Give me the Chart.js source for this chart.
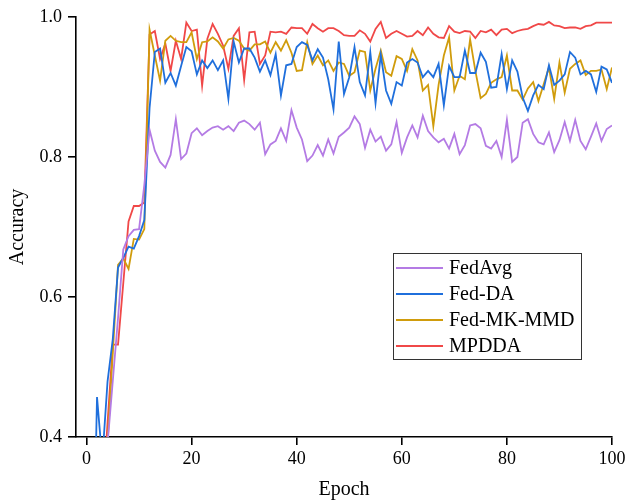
<!DOCTYPE html>
<html>
<head>
<meta charset="utf-8">
<script src="https://cdn.jsdelivr.net/npm/chart.js@4.4.1/dist/chart.umd.min.js"></script>
<style>
html,body{margin:0;padding:0;background:#fff;}
canvas{display:block;}
</style>
</head>
<body>
<canvas id="c" width="629" height="502"></canvas>
<script>
// epochs 1..100
const epochs = [1,2,3,4,5,6,7,8,9,10,11,12,13,14,15,16,17,18,19,20,
  21,22,23,24,25,26,27,28,29,30,31,32,33,34,35,36,37,38,39,40,
  41,42,43,44,45,46,47,48,49,50,51,52,53,54,55,56,57,58,59,60,
  61,62,63,64,65,66,67,68,69,70,71,72,73,74,75,76,77,78,79,80,
  81,82,83,84,85,86,87,88,89,90,91,92,93,94,95,96,97,98,99,100];

const fedAvg = [0.2,0.25,0.3,0.39,0.48,0.57,0.668,0.687,0.696,0.697,
  0.76,0.839,0.809,0.793,0.785,0.803,0.854,0.797,0.805,0.834,
  0.841,0.831,0.837,0.842,0.844,0.839,0.844,0.837,0.849,0.852,
  0.847,0.839,0.849,0.804,0.818,0.823,0.841,0.823,0.867,0.842,
  0.825,0.794,0.802,0.817,0.802,0.825,0.805,0.829,0.835,0.842,
  0.858,0.847,0.813,0.839,0.822,0.829,0.809,0.818,0.85,0.806,
  0.828,0.845,0.828,0.859,0.837,0.828,0.821,0.826,0.812,0.833,
  0.804,0.817,0.845,0.847,0.841,0.816,0.812,0.823,0.8,0.853,
  0.793,0.8,0.849,0.854,0.833,0.821,0.818,0.835,0.807,0.824,
  0.85,0.823,0.853,0.823,0.811,0.829,0.848,0.823,0.84,0.845];

const fedDA = [0.1,0.457,0.367,0.479,0.54,0.642,0.656,0.672,0.669,0.687,
  0.71,0.87,0.95,0.955,0.906,0.92,0.902,0.93,0.957,0.951,
  0.918,0.938,0.927,0.938,0.924,0.938,0.883,0.965,0.935,0.955,
  0.955,0.942,0.922,0.938,0.917,0.947,0.888,0.931,0.933,0.957,
  0.964,0.96,0.938,0.954,0.942,0.911,0.868,0.965,0.89,0.914,
  0.957,0.907,0.888,0.95,0.877,0.946,0.895,0.876,0.907,0.902,
  0.935,0.94,0.935,0.914,0.923,0.914,0.933,0.874,0.93,0.914,
  0.914,0.952,0.92,0.92,0.949,0.936,0.899,0.9,0.947,0.897,
  0.938,0.922,0.885,0.866,0.888,0.903,0.897,0.931,0.903,0.909,
  0.918,0.95,0.942,0.918,0.923,0.918,0.893,0.929,0.925,0.906];

const fedMKMMD = [0.1,0.15,0.25,0.39,0.52,0.646,0.655,0.64,0.683,0.682,
  0.697,0.982,0.945,0.909,0.966,0.973,0.966,0.964,0.964,0.978,
  0.94,0.964,0.965,0.971,0.965,0.955,0.968,0.97,0.966,0.955,
  0.952,0.961,0.961,0.965,0.949,0.964,0.952,0.967,0.949,0.923,
  0.924,0.964,0.933,0.945,0.931,0.938,0.923,0.935,0.933,0.916,
  0.921,0.952,0.95,0.895,0.926,0.952,0.921,0.916,0.944,0.94,
  0.923,0.954,0.938,0.895,0.903,0.844,0.903,0.945,0.971,0.895,
  0.916,0.911,0.968,0.923,0.884,0.89,0.906,0.911,0.914,0.945,
  0.895,0.895,0.882,0.898,0.907,0.88,0.904,0.928,0.883,0.935,
  0.892,0.926,0.933,0.938,0.917,0.923,0.923,0.925,0.897,0.928];

const mpdda = [0.1,0.2,0.3,0.42,0.532,0.532,0.62,0.708,0.73,0.73,
  0.735,0.975,0.98,0.94,0.962,0.923,0.966,0.94,0.992,0.98,
  0.982,0.902,0.969,0.99,0.976,0.959,0.926,0.973,0.984,0.91,
  0.978,0.979,0.933,0.945,0.979,0.978,0.979,0.976,0.985,0.984,
  0.984,0.976,0.99,0.984,0.979,0.984,0.984,0.98,0.974,0.973,
  0.973,0.981,0.976,0.965,0.983,0.993,0.97,0.976,0.98,0.976,
  0.972,0.973,0.98,0.974,0.985,0.976,0.971,0.97,0.987,0.979,
  0.977,0.98,0.979,0.97,0.98,0.978,0.982,0.974,0.982,0.983,
  0.977,0.98,0.982,0.983,0.987,0.99,0.989,0.993,0.988,0.987,
  0.984,0.985,0.985,0.983,0.987,0.988,0.992,0.992,0.992,0.992];

const xTicks = [0,20,40,60,80,100];
const yTicks = [0.4,0.6,0.8,1.0];

const serif = '"Liberation Serif", "Times New Roman", serif';

function series(label, values, color){
  return {
    label: label,
    data: values.map((v,i)=>({x:epochs[i], y:v})),
    borderColor: color,
    backgroundColor: color,
    borderWidth: 1.8,
    pointRadius: 0,
    tension: 0,
    fill: false
  };
}

// boxed legend in the lower right of the plot
const legendBox = {
  id:'legendBox',
  afterDraw(chart){
    const ctx = chart.ctx;
    ctx.save();
    ctx.fillStyle = '#fff';
    ctx.fillRect(393.5,253.5,188,106);
    ctx.strokeStyle = '#333';
    ctx.lineWidth = 1;
    ctx.strokeRect(393.5,253.5,188,106);
    ctx.font = '20px ' + serif;
    ctx.textBaseline = 'middle';
    chart.data.datasets.forEach((ds,i)=>{
      const y = 268 + i*26;
      ctx.strokeStyle = ds.borderColor;
      ctx.lineWidth = 1.8;
      ctx.beginPath(); ctx.moveTo(396,y); ctx.lineTo(443,y); ctx.stroke();
      ctx.fillStyle = '#000';
      ctx.fillText(ds.label, 449, y+1);
    });
    ctx.restore();
  }
};

const axisGrid = {drawOnChartArea:false, drawTicks:true, tickLength:8, color:'#000', lineWidth:1.6};
const axisBorder = {display:true, color:'#000', width:1.6};

new Chart(document.getElementById('c'), {
  type:'line',
  data:{
    datasets:[
      series('FedAvg', fedAvg, '#b47be4'),
      series('Fed-DA', fedDA, '#1f6fdc'),
      series('Fed-MK-MMD', fedMKMMD, '#d09c0c'),
      series('MPDDA', mpdda, '#f04848')
    ]
  },
  options:{
    responsive:false,
    animation:false,
    devicePixelRatio:1,
    layout:{padding:{top:17,right:17,left:0,bottom:0}},
    plugins:{legend:{display:false}, tooltip:{enabled:false}},
    scales:{
      x:{
        type:'linear', min:-2, max:100,
        afterBuildTicks: s => { s.ticks = xTicks.map(v=>({value:v})); },
        afterFit: s => { s.height = 65; },
        ticks:{color:'#000', font:{family:serif, size:18}, padding:3, maxRotation:0},
        grid:axisGrid, border:axisBorder,
        title:{display:true, text:'Epoch', color:'#000', font:{family:serif, size:20}, padding:0}
      },
      y:{
        min:0.4, max:1.0,
        afterBuildTicks: s => { s.ticks = yTicks.map(v=>({value:v})); },
        afterFit: s => { s.width = 76; },
        ticks:{color:'#000', font:{family:serif, size:18}, padding:6, callback:v=>v.toFixed(1)},
        grid:axisGrid, border:axisBorder,
        title:{display:true, text:'Accuracy', color:'#000', font:{family:serif, size:20}, padding:{top:6,bottom:0}}
      }
    }
  },
  plugins:[legendBox]
});
</script>
</body>
</html>
